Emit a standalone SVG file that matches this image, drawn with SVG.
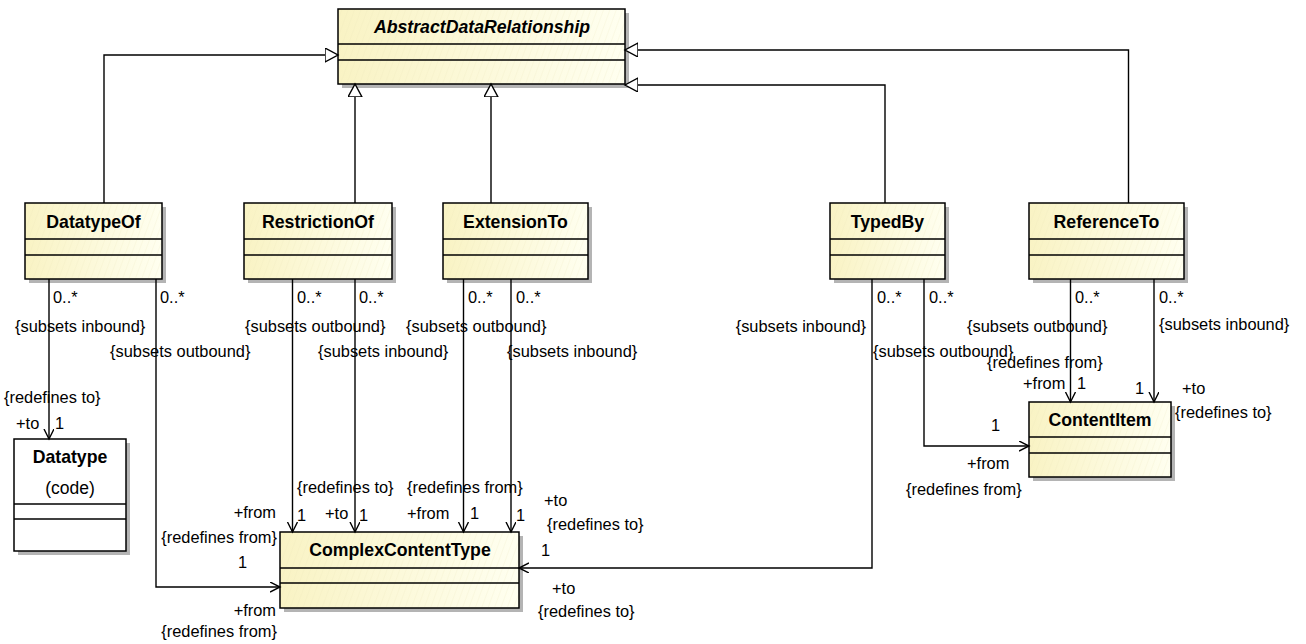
<svg xmlns="http://www.w3.org/2000/svg" width="1306" height="644" viewBox="0 0 1306 644">
<style>
.shadow{fill:#b4b4b4;}
.box{fill:url(#grad);stroke:#000;stroke-width:1.5;}
.white{fill:#fff;stroke:#000;stroke-width:1.5;}
.hatch{fill:url(#hatch);stroke:none;}
.div{stroke:#000;stroke-width:1.5;}
.name{font-family:"Liberation Sans",Arial,sans-serif;font-weight:bold;font-size:17.7px;text-anchor:middle;fill:#000;}
.abs{font-style:italic;}
.lbl{font-family:"Liberation Sans",Arial,sans-serif;font-size:16.4px;fill:#000;}
.end{text-anchor:end;}
.gen{fill:none;stroke:#000;stroke-width:1.4;marker-end:url(#tri);}
.assoc{fill:none;stroke:#000;stroke-width:1.4;marker-end:url(#open);}
</style>
<defs>
<linearGradient id="grad" x1="0" y1="0" x2="1" y2="0">
<stop offset="0" stop-color="#f9f3c4"/>
<stop offset="1" stop-color="#fffff0"/>
</linearGradient>
<pattern id="hatch" width="6" height="6" patternUnits="userSpaceOnUse" patternTransform="rotate(20)">
<line x1="0" y1="0" x2="0" y2="6" stroke="#e9e3b8" stroke-width="0.6" opacity="0.6"/>
</pattern>
<marker id="tri" markerUnits="userSpaceOnUse" markerWidth="16" markerHeight="16" refX="13" refY="7" orient="auto">
<path d="M0,0 L13,7 L0,14 Z" fill="#fff" stroke="#000" stroke-width="1.4"/>
</marker>
<marker id="open" markerUnits="userSpaceOnUse" markerWidth="12" markerHeight="12" refX="10" refY="5" orient="auto">
<path d="M0,0 L10,5 L0,10" fill="none" stroke="#000" stroke-width="1.4"/>
</marker>
</defs>
<rect width="1306" height="644" fill="#fff"/>

<g id="AbstractDataRelationship">
<rect class="shadow" x="342" y="13" width="287" height="75"/>
<rect class="box" x="338" y="9" width="287" height="75"/>
<rect class="hatch" x="339" y="10" width="285" height="73"/>
<line class="div" x1="338" y1="44" x2="625" y2="44"/>
<line class="div" x1="338" y1="60" x2="625" y2="60"/>
<text class="name abs" x="482" y="33">AbstractDataRelationship</text>
</g>

<g id="DatatypeOf">
<rect class="shadow" x="29" y="207" width="137" height="76"/>
<rect class="box" x="25" y="203" width="137" height="76"/>
<rect class="hatch" x="26" y="204" width="135" height="74"/>
<line class="div" x1="25" y1="239" x2="162" y2="239"/>
<line class="div" x1="25" y1="255" x2="162" y2="255"/>
<text class="name" x="93.5" y="228">DatatypeOf</text>
</g>

<g id="RestrictionOf">
<rect class="shadow" x="248" y="207" width="148" height="76"/>
<rect class="box" x="244" y="203" width="148" height="76"/>
<rect class="hatch" x="245" y="204" width="146" height="74"/>
<line class="div" x1="244" y1="239" x2="392" y2="239"/>
<line class="div" x1="244" y1="255" x2="392" y2="255"/>
<text class="name" x="318" y="228">RestrictionOf</text>
</g>

<g id="ExtensionTo">
<rect class="shadow" x="447" y="207" width="145" height="76"/>
<rect class="box" x="443" y="203" width="145" height="76"/>
<rect class="hatch" x="444" y="204" width="143" height="74"/>
<line class="div" x1="443" y1="239" x2="588" y2="239"/>
<line class="div" x1="443" y1="255" x2="588" y2="255"/>
<text class="name" x="515.5" y="228">ExtensionTo</text>
</g>

<g id="TypedBy">
<rect class="shadow" x="834" y="207" width="115" height="76"/>
<rect class="box" x="830" y="203" width="115" height="76"/>
<rect class="hatch" x="831" y="204" width="113" height="74"/>
<line class="div" x1="830" y1="239" x2="945" y2="239"/>
<line class="div" x1="830" y1="255" x2="945" y2="255"/>
<text class="name" x="887.5" y="228">TypedBy</text>
</g>

<g id="ReferenceTo">
<rect class="shadow" x="1033" y="207" width="155" height="76"/>
<rect class="box" x="1029" y="203" width="155" height="76"/>
<rect class="hatch" x="1030" y="204" width="153" height="74"/>
<line class="div" x1="1029" y1="239" x2="1184" y2="239"/>
<line class="div" x1="1029" y1="255" x2="1184" y2="255"/>
<text class="name" x="1106.5" y="228">ReferenceTo</text>
</g>

<g id="Datatype">
<rect class="shadow" x="18" y="443" width="112" height="112"/>
<rect class="white" x="14" y="439" width="112" height="112"/>
<line class="div" x1="14" y1="504" x2="126" y2="504"/>
<line class="div" x1="14" y1="519" x2="126" y2="519"/>
<text class="name" x="70" y="463">Datatype</text>
<text class="lbl" x="70" y="494" text-anchor="middle" style="font-size:17.5px">(code)</text>
</g>

<g id="ComplexContentType">
<rect class="shadow" x="284" y="536" width="239" height="76"/>
<rect class="box" x="280" y="532" width="239" height="76"/>
<rect class="hatch" x="281" y="533" width="237" height="74"/>
<line class="div" x1="280" y1="568" x2="519" y2="568"/>
<line class="div" x1="280" y1="583" x2="519" y2="583"/>
<text class="name" x="400" y="556">ComplexContentType</text>
</g>

<g id="ContentItem">
<rect class="shadow" x="1033" y="406" width="142" height="75"/>
<rect class="box" x="1029" y="402" width="142" height="75"/>
<rect class="hatch" x="1030" y="403" width="140" height="73"/>
<line class="div" x1="1029" y1="437" x2="1171" y2="437"/>
<line class="div" x1="1029" y1="453" x2="1171" y2="453"/>
<text class="name" x="1100" y="426">ContentItem</text>
</g>

<g id="connectors">
<path class="gen" d="M104,203 V55 H338"/>
<path class="gen" d="M355,203 V84"/>
<path class="gen" d="M491,203 V84"/>
<path class="gen" d="M885,203 V85 H625"/>
<path class="gen" d="M1128.5,203 V50 H625"/>
<path class="assoc" d="M49,279 V439"/>
<path class="assoc" d="M156,279 V587 H280"/>
<path class="assoc" d="M292.5,279 V532"/>
<path class="assoc" d="M355,279 V532"/>
<path class="assoc" d="M463.5,279 V532"/>
<path class="assoc" d="M511,279 V532"/>
<path class="assoc" d="M872,279 V568 H519"/>
<path class="assoc" d="M924,279 V446 H1029"/>
<path class="assoc" d="M1070.5,279 V402"/>
<path class="assoc" d="M1154,279 V402"/>
</g>

<g id="labels">
<text class="lbl" x="53" y="303">0..*</text>
<text class="lbl" x="160" y="303">0..*</text>
<text class="lbl" x="15" y="332">{subsets inbound}</text>
<text class="lbl" x="110" y="357">{subsets outbound}</text>
<text class="lbl" x="4" y="403">{redefines to}</text>
<text class="lbl" x="16" y="429">+to</text>
<text class="lbl" x="55" y="429">1</text>
<text class="lbl end" x="276" y="518">+from</text>
<text class="lbl end" x="277" y="543">{redefines from}</text>
<text class="lbl" x="238" y="568">1</text>
<text class="lbl end" x="276" y="616">+from</text>
<text class="lbl end" x="277" y="637">{redefines from}</text>

<text class="lbl" x="297" y="303">0..*</text>
<text class="lbl" x="359" y="303">0..*</text>
<text class="lbl" x="245" y="332">{subsets outbound}</text>
<text class="lbl" x="318" y="357">{subsets inbound}</text>
<text class="lbl" x="297" y="493">{redefines to}</text>
<text class="lbl" x="297" y="521">1</text>
<text class="lbl" x="325" y="519">+to</text>
<text class="lbl" x="359" y="521">1</text>

<text class="lbl" x="468" y="303">0..*</text>
<text class="lbl" x="516" y="303">0..*</text>
<text class="lbl" x="406" y="332">{subsets outbound}</text>
<text class="lbl" x="507" y="357">{subsets inbound}</text>
<text class="lbl" x="407" y="493">{redefines from}</text>
<text class="lbl" x="407" y="519">+from</text>
<text class="lbl" x="470" y="519">1</text>
<text class="lbl" x="516" y="521">1</text>
<text class="lbl" x="544" y="506">+to</text>
<text class="lbl" x="547" y="530">{redefines to}</text>
<text class="lbl" x="541" y="556">1</text>
<text class="lbl" x="552" y="594">+to</text>
<text class="lbl" x="538" y="617">{redefines to}</text>

<text class="lbl" x="877" y="303">0..*</text>
<text class="lbl" x="929" y="303">0..*</text>
<text class="lbl end" x="866" y="332">{subsets inbound}</text>
<text class="lbl" x="873" y="357">{subsets outbound}</text>
<text class="lbl" x="991" y="431">1</text>
<text class="lbl" x="967" y="469">+from</text>
<text class="lbl" x="906" y="495">{redefines from}</text>

<text class="lbl" x="1075" y="303">0..*</text>
<text class="lbl" x="1159" y="303">0..*</text>
<text class="lbl" x="967" y="332">{subsets outbound}</text>
<text class="lbl" x="1159" y="330">{subsets inbound}</text>
<text class="lbl" x="987" y="368">{redefines from}</text>
<text class="lbl" x="1023" y="389">+from</text>
<text class="lbl" x="1077" y="389">1</text>
<text class="lbl" x="1135" y="394">1</text>
<text class="lbl" x="1182" y="394">+to</text>
<text class="lbl" x="1175" y="418">{redefines to}</text>
</g>
</svg>
